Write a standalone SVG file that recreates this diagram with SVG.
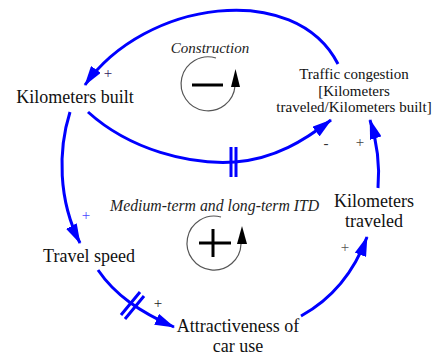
<svg xmlns="http://www.w3.org/2000/svg" width="439" height="356" viewBox="0 0 439 356" font-family="'Liberation Serif', 'Times New Roman', serif">
  <style>
    text { font-family: "Liberation Serif", "Times New Roman", serif; }
    .node { font-size: 18px; fill: #111; text-anchor: middle; }
    .small { font-size: 15px; }
    .loopname { font-size: 15px; font-style: italic; fill: #222; }
    .link { fill: none; stroke: #0000ff; stroke-width: 3; marker-end: url(#arrow); }
    .delay { stroke: #0000ff; stroke-width: 3; fill: none; }
    .pol { font-size: 15px; text-anchor: middle; }
    .ring { fill: none; stroke: #555; stroke-width: 1.2; }
    .sign { stroke: #000; stroke-width: 3; }
  </style>
  <defs>
    <marker id="arrow" viewBox="0 0 20 12" refX="19" refY="6" markerWidth="20" markerHeight="12" markerUnits="userSpaceOnUse" orient="auto">
      <path d="M0,0 L20,6 L0,12 z" fill="#0000ff"/>
    </marker>
  </defs>

  <!-- causal links -->
  <g id="connectors">
    <path class="link" d="M338,64 C295,-20 145,0 85,85"/>
    <path class="link" d="M88,112 C130,150 190,165 235,162 C275,159 305,140 331,120"/>
    <path class="delay" d="M231,147 L231,177 M236,147 L236,177"/>
    <path class="link" d="M378,188 C380,165 378,145 370,120"/>
    <path class="link" d="M70,112 C58,150 58,200 80,243"/>
    <path class="link" d="M98,270 C115,295 140,312 174,327"/>
    <path class="delay" d="M121,315 L140,292 M125,319 L144,296"/>
    <path class="link" d="M301,316 C330,300 353,275 367,237"/>
    <text class="pol" x="108" y="78" fill="#302060">+</text>
    <text class="pol" x="326" y="148" fill="#333">-</text>
    <text class="pol" x="360" y="147" fill="#444">+</text>
    <text class="pol" x="86" y="220" fill="#4848ff">+</text>
    <text class="pol" x="158" y="308" fill="#222">+</text>
    <text class="pol" x="345" y="252" fill="#555">+</text>
  </g>

  <g id="kilometers-built">
    <text class="node" x="75" y="103">Kilometers built</text>
  </g>
  <g id="traffic-congestion">
    <text class="node small" x="354" y="79">Traffic congestion</text>
    <text class="node small" x="354" y="96">[Kilometers</text>
    <text class="node small" x="354" y="112">traveled/Kilometers built]</text>
  </g>
  <g id="kilometers-traveled">
    <text class="node" x="374" y="207">Kilometers</text>
    <text class="node" x="374" y="227">traveled</text>
  </g>
  <g id="travel-speed">
    <text class="node" x="89" y="262">Travel speed</text>
  </g>
  <g id="attractiveness">
    <text class="node" x="238" y="332">Attractiveness of</text>
    <text class="node" x="238" y="352">car use</text>
  </g>

  <!-- balancing loop -->
  <g id="loop-construction">
    <text class="loopname" x="210" y="53" text-anchor="middle">Construction</text>
    <path class="ring" d="M216,58 A27,27 0 1 0 235,86"/>
    <path d="M235.5,69 L231,87 L240,87 z" fill="#000"/>
    <line class="sign" x1="192" y1="85" x2="223" y2="85"/>
  </g>

  <!-- reinforcing loop -->
  <g id="loop-itd">
    <text class="loopname" x="110" y="211" style="font-size:15.8px">Medium-term and long-term ITD</text>
    <path class="ring" d="M221,217 A27,27 0 1 0 241,244"/>
    <path d="M242,226 L237,244 L247,244 z" fill="#000"/>
    <line class="sign" x1="199" y1="243" x2="231" y2="243"/>
    <line class="sign" x1="213" y1="229" x2="213" y2="257"/>
  </g>
</svg>
